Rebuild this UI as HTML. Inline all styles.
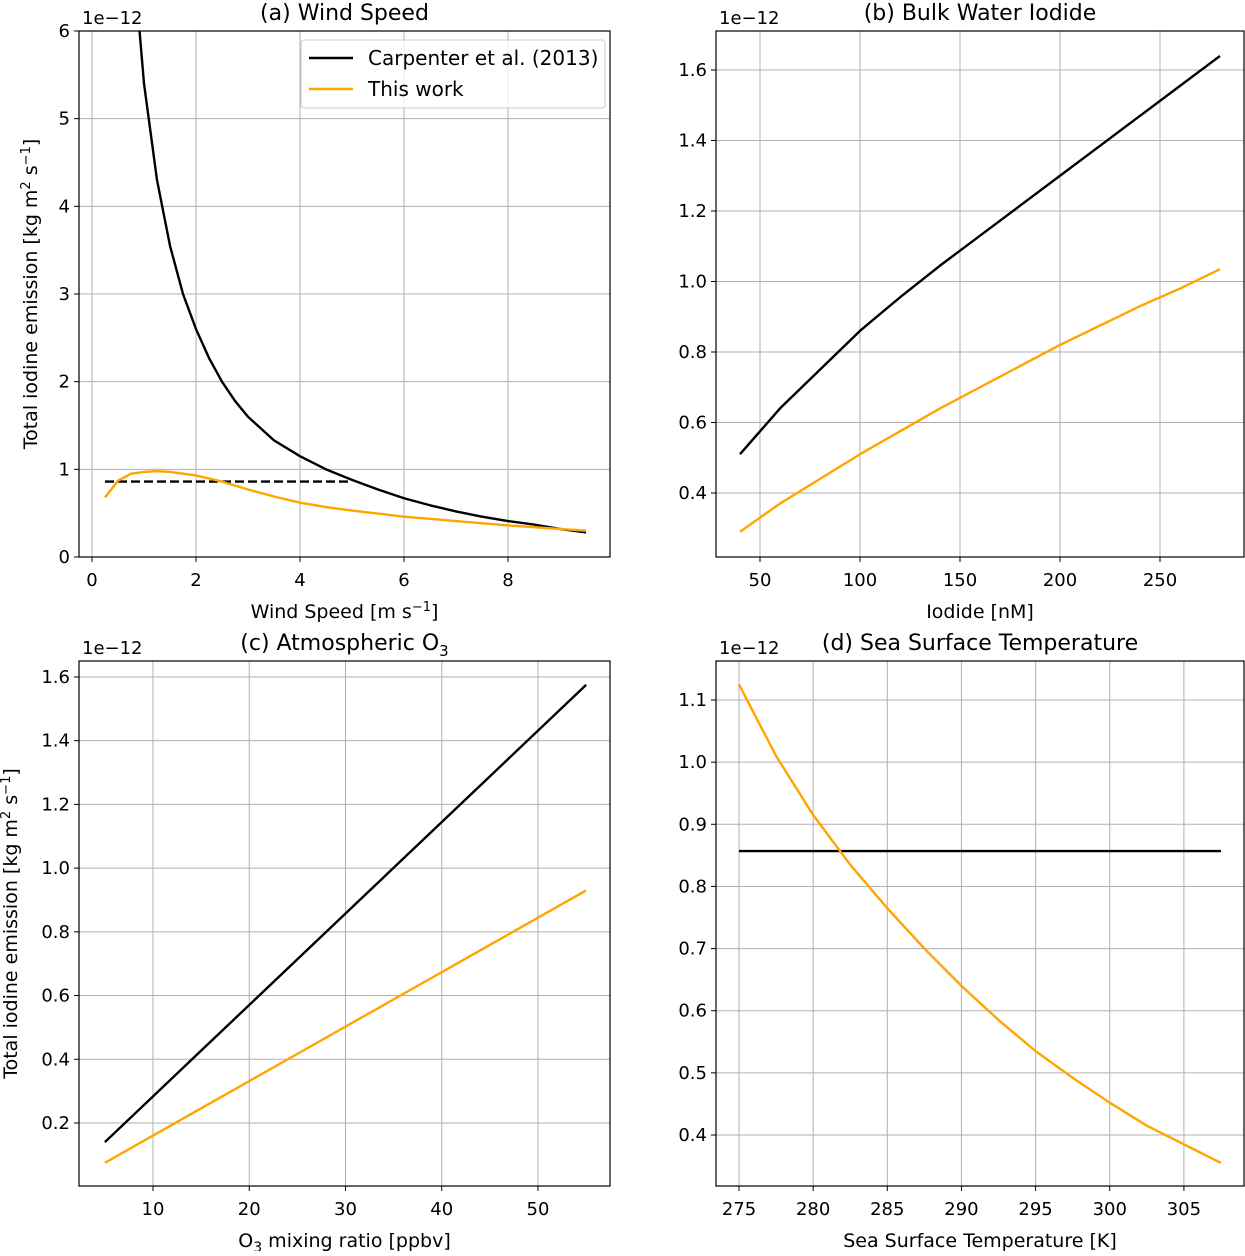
<!DOCTYPE html>
<html><head><meta charset="utf-8"><style>
body{margin:0;background:#fff}
svg text{font-family:"DejaVu Sans","Liberation Sans",sans-serif;fill:#000}
</style></head><body>
<svg id="fig" width="1245" height="1251" viewBox="0 0 1245 1251" xmlns="http://www.w3.org/2000/svg"></svg>
<script>
// (a) Wind speed
const windX=[0.75,0.9,1,1.25,1.5,1.75,2,2.25,2.5,2.75,3,3.5,4,4.5,5,5.5,6,6.5,7,7.5,8,8.5,9,9.5];
const windCarp=[7.5,6.1,5.4,4.3,3.55,3.0,2.6,2.27,2.0,1.78,1.6,1.33,1.15,1.0,0.88,0.77,0.67,0.59,0.52,0.46,0.41,0.37,0.32,0.28];
const windDashX=[0.25,5];
const windDashY=[0.86,0.86];
const windOX=[0.25,0.5,0.75,1,1.25,1.5,2,2.5,3,3.5,4,4.5,5,6,7,8,9,9.5];
const windOY=[0.68,0.87,0.95,0.97,0.98,0.97,0.93,0.86,0.77,0.69,0.62,0.57,0.53,0.46,0.41,0.36,0.32,0.30];
const windXT=[0,2,4,6,8];
const windYT=[0,1,2,3,4,5,6];
// (b) Iodide
const iodX=[40,60,80,100,120,140,160,180,200,220,240,260,280];
const iodCarp=[0.51,0.64,0.75,0.86,0.955,1.045,1.13,1.215,1.30,1.385,1.47,1.555,1.64];
const iodThis=[0.29,0.37,0.44,0.51,0.575,0.64,0.70,0.76,0.82,0.875,0.93,0.98,1.035];
const iodXT=[50,100,150,200,250];
const iodYT=[0.4,0.6,0.8,1.0,1.2,1.4,1.6];
// (c) O3
const o3X=[5,15,25,35,45,55];
const o3Carp=[0.14,0.427,0.714,1.001,1.288,1.575];
const o3This=[0.075,0.246,0.417,0.588,0.759,0.93];
const o3XT=[10,20,30,40,50];
const o3YT=[0.2,0.4,0.6,0.8,1.0,1.2,1.4,1.6];
// (d) SST
const sstX=[275,277.5,280,282.5,285,287.5,290,292.5,295,297.5,300,302.5,305,307.5];
const sstCarp=[0.857,0.857,0.857,0.857,0.857,0.857,0.857,0.857,0.857,0.857,0.857,0.857,0.857,0.857];
const sstThis=[1.125,1.01,0.915,0.835,0.765,0.70,0.64,0.585,0.535,0.492,0.452,0.415,0.385,0.355];
const sstXT=[275,280,285,290,295,300,305];
const sstYT=[0.4,0.5,0.6,0.7,0.8,0.9,1.0,1.1];

const NS="http://www.w3.org/2000/svg";
const svg=document.getElementById('fig');
function mk(tag,at,parent){const e=document.createElementNS(NS,tag);for(const k in at)e.setAttribute(k,at[k]);(parent||svg).appendChild(e);return e;}
function fmt(v,dec){return dec?v.toFixed(1):String(v);}

function panel(o){
  const g=mk('g',{});
  
  
  const sx=v=>o.x0px+(v-o.x0)*o.kx, sy=v=>o.y0px-(v-o.y0)*o.ky;
  const cid='clip'+o.name;
  const cp=mk('clipPath',{id:cid},g);mk('rect',{x:o.L,y:o.T,width:o.R-o.L,height:o.B-o.T},cp);
  o.xt.forEach(v=>{const x=sx(v);
    const gl=mk('line',{x1:x,x2:x,y1:o.T,y2:o.B,stroke:'#b0b0b0','stroke-width':1},g);
    
    mk('line',{x1:x,x2:x,y1:o.B,y2:o.B+5,stroke:'#000','stroke-width':1},g);
    const t=mk('text',{x:x,y:o.B+29,'text-anchor':'middle','font-size':18},g);t.textContent=fmt(v,o.xdec);
    });
  o.yt.forEach(v=>{const y=sy(v);
    const gl=mk('line',{x1:o.L,x2:o.R,y1:y,y2:y,stroke:'#b0b0b0','stroke-width':1},g);
    
    mk('line',{x1:o.L-5,x2:o.L,y1:y,y2:y,stroke:'#000','stroke-width':1},g);
    const t=mk('text',{x:o.L-9,y:y+6,'text-anchor':'end','font-size':18},g);t.textContent=fmt(v,o.ydec);
    });
  const lg=mk('g',{'clip-path':'url(#'+cid+')'},g);
  o.series.forEach(s=>{
    const p=mk('polyline',{points:s.x.map((v,i)=>sx(v)+','+sy(s.y[i])).join(' '),fill:'none',stroke:s.c,'stroke-width':2.4,'stroke-dasharray':s.dash||'none','stroke-linejoin':'round'},lg);
    });
  const fr=mk('rect',{x:o.L,y:o.T,width:o.R-o.L,height:o.B-o.T,fill:'none',stroke:'#000','stroke-width':1.2},g);
  
  const tt=mk('text',{x:(o.L+o.R)/2,y:o.T-11,'text-anchor':'middle','font-size':22},g);tt.innerHTML=o.title;
  
  const ex=mk('text',{x:o.L+3,y:o.T-7,'font-size':18},g);ex.textContent='1e\u221212';
  
  const xl=mk('text',{x:(o.L+o.R)/2,y:o.B+61,'text-anchor':'middle','font-size':19},g);xl.innerHTML=o.xlab;
  
  if(o.ylab){const yl=mk('text',{x:0,y:0,'text-anchor':'middle','font-size':19,transform:'translate('+o.ylx+','+(o.T+o.B)/2+') rotate(-90)'},g);yl.innerHTML=o.ylab;
    }
  return g;
}
const ylab='Total iodine emission [kg m<tspan dy="-7" font-size="13">2</tspan><tspan dy="7"> s</tspan><tspan dy="-7" font-size="13">\u22121</tspan><tspan dy="7">]</tspan>';
panel({name:'panel-a-wind-speed',L:79,R:610,T:31,B:557,x0:0,x0px:92,kx:52,y0:0,y0px:557,ky:87.67,xt:windXT,yt:windYT,
 title:'(a) Wind Speed',xlab:'Wind Speed [m s<tspan dy="-7" font-size="13">\u22121</tspan><tspan dy="7">]</tspan>',ylab:ylab,ylx:37,
 series:[{x:windX,y:windCarp,c:'#000',n:'carpenter-line'},{x:windDashX,y:windDashY,c:'#000',dash:'9,4',n:'carpenter-dashed-line'},{x:windOX,y:windOY,c:'#ffa500',n:'this-work-line'}]});
panel({name:'panel-b-iodide',L:716,R:1244,T:31,B:557,x0:50,x0px:760,kx:2,y0:0.4,y0px:493,ky:352.5,xt:iodXT,yt:iodYT,ydec:1,
 title:'(b) Bulk Water Iodide',xlab:'Iodide [nM]',
 series:[{x:iodX,y:iodCarp,c:'#000',n:'carpenter-line'},{x:iodX,y:iodThis,c:'#ffa500',n:'this-work-line'}]});
panel({name:'panel-c-ozone',L:79,R:610,T:661,B:1186,x0:10,x0px:153,kx:9.625,y0:0.2,y0px:1123,ky:318.6,xt:o3XT,yt:o3YT,ydec:1,
 title:'(c) Atmospheric O<tspan dy="6" font-size="15">3</tspan>',xlab:'O<tspan dy="5" font-size="14">3</tspan><tspan dy="-5"> mixing ratio [ppbv]</tspan>',ylab:ylab,ylx:17,
 series:[{x:o3X,y:o3Carp,c:'#000',n:'carpenter-line'},{x:o3X,y:o3This,c:'#ffa500',n:'this-work-line'}]});
panel({name:'panel-d-sst',L:716,R:1244,T:661,B:1186,x0:275,x0px:739,kx:14.83,y0:0.4,y0px:1135,ky:621.4,xt:sstXT,yt:sstYT,ydec:1,
 title:'(d) Sea Surface Temperature',xlab:'Sea Surface Temperature [K]',
 series:[{x:sstX,y:sstCarp,c:'#000',n:'carpenter-line'},{x:sstX,y:sstThis,c:'#ffa500',n:'this-work-line'}]});
// legend
const lg=mk('g',{});


mk('rect',{x:301,y:40,width:304,height:68,rx:3,fill:'#fff','fill-opacity':0.8,stroke:'#ccc'},lg);
mk('line',{x1:309,x2:353,y1:58,y2:58,stroke:'#000','stroke-width':2.4},lg);
mk('line',{x1:309,x2:353,y1:89,y2:89,stroke:'#ffa500','stroke-width':2.4},lg);
const l1=mk('text',{x:368,y:65,'font-size':20},lg);l1.textContent='Carpenter et al. (2013)';


const l2=mk('text',{x:368,y:96,'font-size':20},lg);l2.textContent='This work';


</script>
</body></html>
